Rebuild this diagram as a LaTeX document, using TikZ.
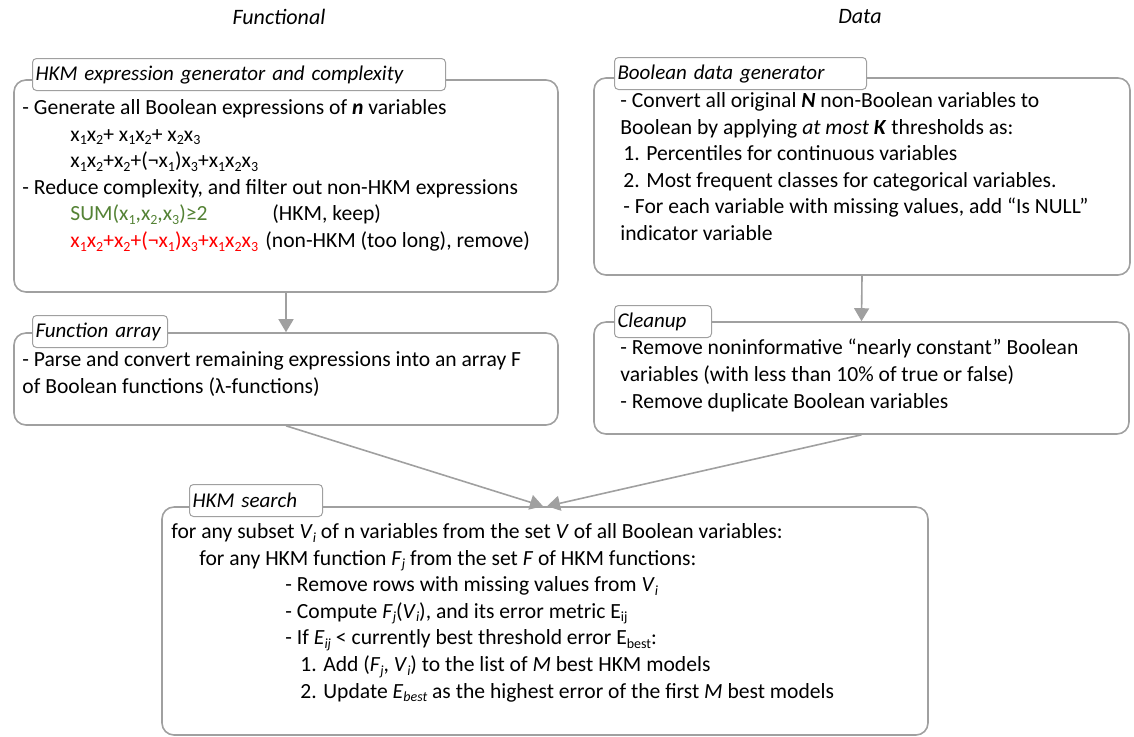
\documentclass[tikz,border=0pt]{standalone}
\usepackage{fontspec}
\setmainfont{Carlito}
\usetikzlibrary{fit,arrows.meta}

\definecolor{boxgray}{RGB}{160,160,160}
\definecolor{hkmgreen}{RGB}{84,130,53}
\definecolor{hkmred}{RGB}{255,0,0}
\newcommand{\sub}[1]{\raisebox{-1.8pt}{\fontsize{7pt}{7pt}\selectfont #1}}
\newcommand{\xv}[1]{x\sub{#1}}

\begin{document}
\begin{tikzpicture}[x=0.5pt,y=-0.5pt,
    font=\fontsize{10.8pt}{13.3pt}\selectfont,
    panel/.style={draw=boxgray,line width=0.8pt,rounded corners=6pt,inner sep=0pt},
    tab/.style={draw=boxgray,line width=0.5pt,fill=white,rounded corners=2pt,
        minimum height=16pt,inner xsep=1.5pt,inner ysep=0pt,align=left,
        font=\fontsize{10.5pt}{12pt}\selectfont\itshape},
    head/.style={font=\fontsize{11pt}{12pt}\selectfont\itshape},
    body/.style={anchor=north west,inner sep=0pt,align=left},
    flow/.style={draw=boxgray,line width=0.8pt,-{Triangle[length=6.5pt,width=7.5pt]}}]
    \useasboundingbox (0,0) rectangle (1134,736);

    \node[head] (Fhead) at (279,17) {Functional};
    \node[head] (Dhead) at (860,17) {Data};

    % functional side
    \node[panel,fit={(14,80) (558,292)}] (Gen) {};
    \node[tab,text width=203.5pt,anchor=north west] (GenT) at (32,58) {HKM expression generator and complexity};
    \node[body] (GenB) at (22,99) {%
        - Generate all Boolean expressions of \textbf{\textit{n}} variables\\
        \hspace*{24pt}\xv1\xv2+ \xv1\xv2+ \xv2\xv3\\
        \hspace*{24pt}\xv1\xv2+\xv2+(¬\xv1)\xv3+\xv1\xv2\xv3\\
        - Reduce complexity, and filter out non-HKM expressions\\
        \hspace*{24pt}\makebox[101pt][l]{\color{hkmgreen}SUM(\xv1,\xv2,\xv3)≥2}(HKM, keep)\\
        \hspace*{24pt}\makebox[97.5pt][l]{\color{hkmred}\xv1\xv2+\xv2+(¬\xv1)\xv3+\xv1\xv2\xv3}(non-HKM (too long), remove)};

    \node[panel,fit={(14,333) (558,425)}] (Arr) {};
    \node[tab,text width=64.5pt,anchor=north west] (ArrT) at (32,315) {Function array};
    \node[body] (ArrB) at (22,351) {%
        - Parse and convert remaining expressions into an array F\\
        of Boolean functions (λ-functions)};

    % data side
    \node[panel,fit={(594,78) (1130,275)}] (Dat) {};
    \node[tab,text width=123pt,anchor=north west] (DatT) at (614,57) {Boolean data generator};
    \node[body] (DatB) at (620,92) {%
        - Convert all original \textbf{\textit{N}} non-Boolean variables to\\
        Boolean by applying \textit{at most} \textbf{\textit{K}} thresholds as:\\
        \hspace*{1.5pt}1. Percentiles for continuous variables\\
        \hspace*{1.5pt}2. Most frequent classes for categorical variables.\\
        \hspace*{1.5pt}- For each variable with missing values, add “Is NULL”\\
        indicator variable};

    \node[panel,fit={(594,322) (1129,434)}] (Cln) {};
    \node[tab,text width=45.5pt,anchor=north west] (ClnT) at (614,305) {Cleanup};
    \node[body] (ClnB) at (620,339) {%
        - Remove noninformative “nearly constant” Boolean\\
        variables (with less than 10\% of true or false)\\
        - Remove duplicate Boolean variables};

    % search
    \node[panel,fit={(162,507) (928,735)}] (Srch) {};
    \node[tab,text width=63.5pt,anchor=north west] (SrchT) at (189,484) {HKM search};
    \node[body] (SrchB) at (171,523) {%
        for any subset \textit{V}\sub{\textit{i}} of n variables from the set \textit{V} of all Boolean variables:\\
        \hspace*{14pt}for any HKM function \textit{F}\sub{\textit{j}} from the set \textit{F} of HKM functions:\\
        \hspace*{57pt}- Remove rows with missing values from \textit{V}\sub{\textit{i}}\\
        \hspace*{57pt}- Compute \textit{F}\sub{\textit{j}}(\textit{V}\sub{\textit{i}}), and its error metric E\sub{ij}\\
        \hspace*{57pt}- If \textit{E}\sub{\textit{ij}} < currently best threshold error E\sub{best}:\\
        \hspace*{64.5pt}1. Add (\textit{F}\sub{\textit{j}}, \textit{V}\sub{\textit{i}}) to the list of \textit{M} best HKM models\\
        \hspace*{64.5pt}2. Update \textit{E}\sub{\textit{best}} as the highest error of the first \textit{M} best models};

    \draw[flow] (Gen.south) -- (Arr.north);
    \draw[flow] (Dat.south) -- (Cln.north);
    \draw[flow] (Arr.south) -- ([xshift=-1pt]Srch.north);
    \draw[flow] (Cln.south) -- ([xshift=1pt]Srch.north);
\end{tikzpicture}
\end{document}
